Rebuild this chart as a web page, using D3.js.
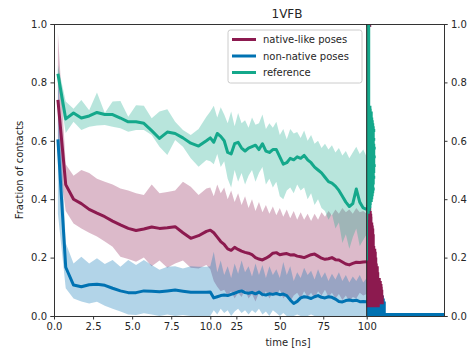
<!DOCTYPE html>
<html lang="en">
<head>
<meta charset="utf-8">
<style>
  body { margin: 0; background: #fff; }
  text { font-family: "DejaVu Sans", sans-serif; fill: #262626; }
  .axis path, .axis line { stroke: #333; }
</style>
</head>
<body>
<svg width="476" height="358"></svg>
<script src="https://cdn.jsdelivr.net/npm/d3@7"></script>
<script>
// time points: 0.5 ns bins up to 10 ns, then 2 ns steps
var time = [0.25, 0.75, 1.25, 1.75, 2.25, 2.75, 3.25, 3.75, 4.25, 4.75,
            5.25, 5.75, 6.25, 6.75, 7.25, 7.75, 8.25, 8.75, 9.25, 9.75,
            10, 12, 14, 16, 18, 20, 22, 24, 26, 28, 30, 32, 34, 36, 38, 40, 42, 44, 46, 48,
            50, 52, 54, 56, 58, 60, 62, 64, 66, 68, 70, 72, 74, 76, 78, 80, 82, 84, 86, 88,
            90, 92, 94, 96, 98, 100];

var nativeMean = [0.74, 0.45, 0.40, 0.385, 0.365, 0.352, 0.34, 0.325, 0.312, 0.30,
                  0.293, 0.298, 0.305, 0.30, 0.302, 0.306, 0.285, 0.266, 0.275, 0.29,
                  0.294, 0.285, 0.27, 0.255, 0.245, 0.23, 0.225, 0.235, 0.228, 0.222, 0.218, 0.215, 0.21, 0.20, 0.195, 0.192, 0.198, 0.205, 0.215, 0.217,
                  0.21, 0.212, 0.214, 0.209, 0.21, 0.205, 0.203, 0.20, 0.205, 0.21, 0.212, 0.205, 0.198, 0.194, 0.196, 0.20, 0.193, 0.192, 0.185, 0.178,
                  0.175, 0.18, 0.184, 0.183, 0.185, 0.186];
var nativeUpper = [0.97, 0.52, 0.48, 0.50, 0.49, 0.47, 0.46, 0.45, 0.437, 0.43,
                   0.42, 0.414, 0.45, 0.42, 0.425, 0.43, 0.46, 0.443, 0.414, 0.437,
                   0.44, 0.41, 0.45, 0.42, 0.44, 0.40, 0.43, 0.39, 0.42, 0.38, 0.41, 0.37, 0.40, 0.36, 0.39, 0.355, 0.38, 0.35, 0.375, 0.345,
                   0.37, 0.34, 0.365, 0.335, 0.36, 0.33, 0.355, 0.33, 0.35, 0.325, 0.35, 0.33, 0.355, 0.34, 0.36, 0.345, 0.365, 0.35, 0.37, 0.355,
                   0.365, 0.35, 0.37, 0.355, 0.36, 0.35];
var nativeLower = [0.55, 0.36, 0.317, 0.30, 0.285, 0.272, 0.255, 0.237, 0.203, 0.195,
                   0.186, 0.20, 0.17, 0.19, 0.165, 0.18, 0.19, 0.165, 0.163, 0.175,
                   0.16, 0.12, 0.10, 0.085, 0.09, 0.07, 0.085, 0.06, 0.08, 0.065, 0.09, 0.06, 0.075, 0.05, 0.08, 0.065, 0.085, 0.06, 0.08, 0.07,
                   0.09, 0.06, 0.075, 0.05, 0.07, 0.08, 0.06, 0.085, 0.065, 0.08, 0.06, 0.085, 0.07, 0.09, 0.065, 0.08, 0.06, 0.075, 0.055, 0.07,
                   0.05, 0.065, 0.06, 0.08, 0.07, 0.075];

var nonNativeMean = [0.605, 0.167, 0.106, 0.10, 0.107, 0.109, 0.105, 0.095, 0.086, 0.08,
                     0.08, 0.086, 0.085, 0.083, 0.086, 0.089, 0.085, 0.081, 0.081, 0.081,
                     0.082, 0.062, 0.066, 0.07, 0.072, 0.07, 0.074, 0.078, 0.083, 0.086, 0.08, 0.078, 0.081, 0.076, 0.082, 0.074, 0.072, 0.076, 0.074, 0.077,
                     0.073, 0.075, 0.07, 0.055, 0.043, 0.05, 0.062, 0.066, 0.064, 0.06, 0.066, 0.07, 0.064, 0.062, 0.066, 0.064, 0.058, 0.05, 0.048, 0.053,
                     0.055, 0.052, 0.054, 0.049, 0.05, 0.049];
var nonNativeUpper = [0.85, 0.25, 0.18, 0.203, 0.18, 0.198, 0.178, 0.192, 0.169, 0.192,
                      0.175, 0.192, 0.175, 0.158, 0.169, 0.17, 0.163, 0.17, 0.169, 0.169,
                      0.17, 0.22, 0.15, 0.19, 0.14, 0.17, 0.13, 0.18, 0.145, 0.19, 0.15, 0.17, 0.135, 0.18, 0.14, 0.175, 0.13, 0.17, 0.14, 0.16,
                      0.13, 0.185, 0.14, 0.17, 0.12, 0.15, 0.13, 0.165, 0.14, 0.155, 0.125, 0.16, 0.13, 0.15, 0.12, 0.145, 0.125, 0.15, 0.12, 0.14,
                      0.115, 0.135, 0.12, 0.14, 0.115, 0.13];
var nonNativeLower = [0.35, 0.095, 0.06, 0.05, 0.043, 0.049, 0.035, 0.025, 0.015, 0.005,
                      0.003, 0.009, 0.005, 0.0, 0.005, 0.0, 0.003, 0.0, 0.0, 0.0,
                      0.0, 0.02, 0.005, 0.025, 0.01, 0.02, 0.0, 0.015, 0.025, 0.01, 0.02, 0.005, 0.02, 0.01, 0.025, 0.005, 0.015, 0.0, 0.02, 0.01,
                      0.0, 0.01, 0.0, 0.0, 0.0, 0.005, 0.0, 0.0, 0.0, 0.005, 0.0, 0.0, 0.0, 0.0, 0.0, 0.0, 0.0, 0.0, 0.0, 0.0,
                      0.0, 0.0, 0.0, 0.0, 0.0, 0.0];

var refMean = [0.83, 0.675, 0.695, 0.678, 0.685, 0.697, 0.69, 0.69, 0.678, 0.665,
               0.665, 0.66, 0.635, 0.608, 0.63, 0.625, 0.61, 0.592, 0.582, 0.60,
               0.61, 0.595, 0.625, 0.615, 0.60, 0.56, 0.555, 0.59, 0.595, 0.575, 0.565, 0.575, 0.58, 0.585, 0.57, 0.59, 0.565, 0.56, 0.57, 0.57,
               0.545, 0.52, 0.525, 0.54, 0.535, 0.545, 0.54, 0.55, 0.535, 0.525, 0.51, 0.50, 0.49, 0.475, 0.46, 0.455, 0.445, 0.43, 0.41, 0.39,
               0.375, 0.385, 0.435, 0.39, 0.37, 0.365];
var refUpper = [0.86, 0.735, 0.71, 0.74, 0.705, 0.765, 0.695, 0.735, 0.736, 0.682,
                0.722, 0.72, 0.677, 0.70, 0.708, 0.665, 0.637, 0.62, 0.64, 0.682,
                0.70, 0.72, 0.68, 0.715, 0.69, 0.66, 0.70, 0.65, 0.695, 0.66, 0.67, 0.645, 0.68, 0.655, 0.66, 0.69, 0.64, 0.66, 0.645, 0.665,
                0.62, 0.64, 0.605, 0.64, 0.625, 0.63, 0.61, 0.635, 0.60, 0.62, 0.59, 0.60, 0.575, 0.59, 0.57, 0.585, 0.56, 0.575, 0.55, 0.565,
                0.54, 0.56, 0.58, 0.555, 0.57, 0.545];
var refLower = [0.80, 0.627, 0.665, 0.637, 0.648, 0.652, 0.654, 0.648, 0.643, 0.631,
                0.637, 0.637, 0.62, 0.58, 0.551, 0.603, 0.58, 0.54, 0.511, 0.534,
                0.53, 0.52, 0.555, 0.51, 0.53, 0.47, 0.44, 0.50, 0.46, 0.49, 0.45, 0.48, 0.50, 0.46, 0.49, 0.51, 0.45, 0.47, 0.44, 0.46,
                0.41, 0.40, 0.43, 0.44, 0.42, 0.45, 0.43, 0.44, 0.40, 0.42, 0.38, 0.40, 0.37, 0.36, 0.33, 0.35, 0.30, 0.32, 0.25, 0.28,
                0.23, 0.27, 0.30, 0.24, 0.26, 0.28];

// histograms of contact fraction, 0.01 wide bins, first bin index given
var histNonNativeStart = 0;
var histNonNative = [77, 19, 19, 19, 19, 18, 17];
var histNativeStart = 3;
var histNative = [13, 17, 17, 17, 16.5, 16.5, 16, 15.7, 15, 14, 12.5, 12.5, 12, 12, 11, 10.5, 10.5, 10, 10, 9.5,
                  8.5, 8, 8, 8, 8, 7.5, 7.5, 7, 6.5, 5.7, 5.7, 5.5, 5, 4.5, 3];
var histNativeTopStart = 99;
var histNativeTop = [4.5];
var histRefStart = 19;
var histRef = [1.3, 1.3, 1.3, 1.3, 1.3, 1.3, 1.3, 1.3, 1.3, 1.3, 1.3, 1.3, 1.3, 1.3, 1.5, 1.5, 3, 4, 4.7, 5,
               6, 6.5, 7, 7.5, 8, 7.5, 8, 8, 8.5, 8, 8.5, 8.5, 9, 8.5, 8.5, 9, 8.5, 8.5, 9, 8.5,
               8, 8.5, 8, 8, 8.5, 8, 7.5, 7, 6.5, 6, 6, 5, 4.7, 3.5, 3.5, 3.5, 3.5, 3.5, 3.5, 3.5,
               3.5, 3.5, 3.5, 3.5, 3.5, 3.5, 3.5, 3.5, 3.5, 3.5, 3.5, 3.5, 3.5, 3.5, 3.5, 3.5, 3.5, 3.5, 3.5, 3.5, 3.5];

var xTicksA = [0, 2.5, 5, 7.5, 10];
var xTicksB = [25, 50, 75, 100];
var yTicks = [0, 0.2, 0.4, 0.6, 0.8, 1.0];

var colors = { native: "#8c1a4f", nonNative: "#0072b2", ref: "#14a88b" };

var series = [
    { name: "native-like poses", color: colors.native, mean: nativeMean, upper: nativeUpper, lower: nativeLower },
    { name: "non-native poses", color: colors.nonNative, mean: nonNativeMean, upper: nonNativeUpper, lower: nonNativeLower },
    { name: "reference", color: colors.ref, mean: refMean, upper: refUpper, lower: refLower }
];

var svg = d3.select("svg");
var plotL = 54, plotT = 24, plotB = 316, split = 366.7, plotR = 444;

// broken time axis: 0-10 ns stretched, 10-100 ns compressed
var x = d3.scaleLinear().domain([0, 10, 100]).range([plotL, 210.3, split]);
var y = d3.scaleLinear().domain([0, 1]).range([plotB, plotT]);
var hx = d3.scaleLinear().domain([0, 77]).range([split, plotR]);

var area = function (s) {
    return d3.area()
        .x(function (d, i) { return x(time[i]); })
        .y0(function (d, i) { return y(s.lower[i]); })
        .y1(function (d, i) { return y(s.upper[i]); });
};
var line = d3.line()
    .x(function (d, i) { return x(time[i]); })
    .y(function (d) { return y(d); });

series.forEach(function (s) {
    svg.append("path")
        .attr("d", area(s)(s.mean))
        .attr("fill", s.color)
        .attr("fill-opacity", 0.3);
});
series.forEach(function (s) {
    svg.append("path")
        .attr("d", line(s.mean))
        .attr("fill", "none")
        .attr("stroke", s.color)
        .attr("stroke-width", 3)
        .attr("stroke-linejoin", "round");
});

// side histograms as one step outline each
function drawHist(start, counts, color) {
    var p = d3.path();
    p.moveTo(split, y(start / 100));
    counts.forEach(function (c, i) {
        p.lineTo(hx(c), y((start + i) / 100));
        p.lineTo(hx(c), y((start + i + 1) / 100));
    });
    p.lineTo(split, y((start + counts.length) / 100));
    p.closePath();
    svg.append("path").attr("d", p.toString()).attr("fill", color);
}
drawHist(histNonNativeStart, histNonNative, colors.nonNative);
drawHist(histNativeStart, histNative, colors.native);
drawHist(histNativeTopStart, histNativeTop, colors.native);
drawHist(histRefStart, histRef, colors.ref);

// frame
svg.append("line").attr("x1", plotL).attr("x2", plotR).attr("y1", plotT + 0.5).attr("y2", plotT + 0.5)
    .attr("stroke", "#333");
svg.append("line").attr("x1", split).attr("x2", split).attr("y1", plotT).attr("y2", plotB)
    .attr("stroke", "#222");

var fmt = d3.format(".1f");
svg.append("g").attr("class", "axis")
    .attr("transform", "translate(0," + plotB + ")")
    .call(d3.axisBottom(x).tickValues(xTicksA.concat(xTicksB)).tickSizeOuter(0).tickSize(3.5).tickPadding(3.5)
        .tickFormat(function (d) { return d <= 10 ? fmt(d) : d; }))
    .call(function (g) { g.select(".domain").attr("d", "M" + plotL + ",0.5H" + plotR); })
    .selectAll("text").attr("font-size", 10).attr("fill", "#262626");

svg.append("g").attr("class", "axis")
    .attr("transform", "translate(" + plotL + ",0)")
    .call(d3.axisLeft(y).tickValues(yTicks).tickFormat(fmt).tickSizeOuter(0).tickSize(3.5).tickPadding(3.5))
    .selectAll("text").attr("font-size", 10).attr("fill", "#262626");

svg.append("g").attr("class", "axis")
    .attr("transform", "translate(" + plotR + ",0)")
    .call(d3.axisRight(y).tickValues(yTicks).tickFormat(fmt).tickSizeOuter(0).tickSize(3.5).tickPadding(3.5))
    .selectAll("text").attr("font-size", 10).attr("fill", "#262626");

svg.selectAll(".axis text").attr("font-family", "DejaVu Sans");

// labels
svg.append("text").attr("x", 287).attr("y", 18).attr("text-anchor", "middle")
    .attr("font-size", 12).text("1VFB");
svg.append("text").attr("x", 288).attr("y", 346).attr("text-anchor", "middle")
    .attr("font-size", 10).text("time [ns]");
svg.append("text").attr("transform", "translate(23,170) rotate(-90)").attr("text-anchor", "middle")
    .attr("font-size", 10).text("Fraction of contacts");

// legend
var legend = svg.append("g").attr("transform", "translate(228,30)");
legend.append("rect").attr("width", 134).attr("height", 53).attr("rx", 2.5)
    .attr("fill", "#fff").attr("fill-opacity", 0.8).attr("stroke", "#ccc");
series.forEach(function (s, i) {
    var ly = 9.5 + i * 16.5;
    legend.append("line").attr("x1", 4).attr("x2", 28).attr("y1", ly).attr("y2", ly)
        .attr("stroke", s.color).attr("stroke-width", 3);
    legend.append("text").attr("x", 35).attr("y", ly).attr("dy", "0.35em")
        .attr("font-size", 10).text(s.name);
});
</script>
</body>
</html>
